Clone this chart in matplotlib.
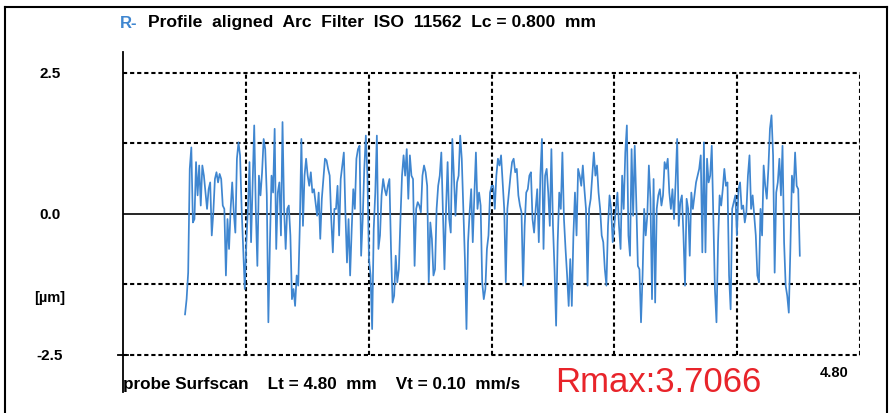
"""
Roughness profile chart (R-profile, arc filter).
"""

import matplotlib

matplotlib.use("Agg")
import matplotlib.pyplot as plt
import matplotlib.lines as mlines
import numpy as np

# profile values [um] from left to right
profile_a = [-1.78, -1.51, -1.04, 0.80, 1.18, -0.15, -0.09, 0.92, 0.33, 0.86,
             0.15, 0.86, 0.68, 0.38, 0.09, 0.44, 0.56, -0.38, 0.03, 0.62,
             0.74, 0.56, 0.71, 0.62, 0.15, 0.09, -1.09, -0.09, -0.62, 0.09,
             0.56, 0.03, -0.33, 0.98, 1.27, 1.04, 0.09, -0.62, -1.33, -0.50,
             0.09, 0.92, -0.50, 0.56, 1.57, 0.09, -0.92, 0.68, 0.33, 0.74,
             1.33, 1.15, 0.33, -1.92, -0.50, 0.68, 0.38, 1.51, -0.62, 0.38,
             0.56, -0.38, 1.63]
profile_b = [0.09, -0.62, 0.09, 0.15, -0.38, -1.51, -1.33, -1.63, -1.09, -1.27,
             -0.21, 1.33, -0.21, 0.68, 0.98, 0.68, 0.50, 0.74, 0.38, 0.44,
             0.21, -0.03, 0.38, -0.44, 0.27, 0.62, 0.98, 0.95, 0.80, 0.68,
             -0.09, -0.68, 0.09, 0.09, 0.50, -0.38, 0.62, 0.86, 1.09, 0.03,
             -0.86, -0.09, -1.09, -0.27, 0.44, 0.09, 0.98, 1.15, 1.21, -0.74,
             -0.09, 0.80, 1.39, 0.68, -0.80, -1.09, -2.04, -0.27, 0.38, 1.39,
             -0.62, -0.38, 0.33, 0.62, 0.44, 0.33, 0.50]
profile_c = [0.62, -0.62, -1.57, -1.45, -0.74, -1.21, -0.98, -0.09, 0.68, 1.04,
             0.68, 1.15, 0.27, 1.04, 0.68, 0.62, -0.92, 0.09, 0.21, 0.15,
             0.03, 0.68, 0.86, 0.74, 0.50, -1.21, -0.15, -0.44, -1.09, -0.98,
             0.09, 0.50, 0.68, 1.09, 0.09, -0.98, 0.09, 0.92, -0.09, -0.33,
             1.33, 0.68, -0.03, 0.56, 0.68, 1.39, 0.98, 0.09, -0.80, -2.04,
             -0.50, 0.03, 0.44, -0.50, 0.33, 1.09, 0.09, 0.38, 0.15, -1.21,
             -1.51, -1.33, -0.62, -0.38, 0.38, 0.50]
profile_d = [0.50, 0.09, 0.68, 0.98, 0.86, 1.04, 0.56, 0.09, -1.21, 0.09,
             0.38, 0.68, 0.92, 0.98, 0.74, 0.80, 0.33, 0.15, 0.03, -1.27,
             -0.21, 0.38, 0.44, 0.68, 0.74, -0.09, -0.33, 0.09, 0.44, -0.50,
             0.68, 1.33, -0.62, 0.68, 0.80, 0.38, -0.21, 1.15, -0.21, -0.98,
             -1.98, -0.50, 0.38, 0.09, 1.09, -0.09, -0.62, -1.09, -1.63, -0.80,
             -1.63, -0.38, 0.38, -0.38, 0.80, 0.68, 0.50, 0.86, 0.44, 0.09,
             -1.27, 0.09, 0.27, 0.68, 1.09, 0.68]
profile_e = [0.86, 0.38, 0.09, -0.38, -0.50, -0.98, -1.27, -0.21, 0.33, 0.09,
             -0.50, -0.21, 0.09, 0.38, -0.21, -0.62, 0.68, 0.09, 1.09, 1.57,
             -0.38, -0.74, 1.15, -0.03, 1.21, 0.21, -0.92, -0.98, -1.92, -1.09,
             0.09, -0.38, -0.03, 0.86, 0.27, -1.51, 0.62, -1.57, 0.09, 0.33,
             0.44, 0.15, 0.33, 0.92, 0.80, 0.98, 0.38, 0.09, 0.44, -0.09,
             0.56, 1.33, -0.21, 0.21, 0.33, -0.38, -1.27, 0.27, 0.09, -0.74,
             0.38, 0.09, 0.33, 0.56, 0.68, 0.80, 1.04, -0.68]
profile_f = [1.27, -0.68, 0.98, 0.56, 0.68, 1.21, -0.03, -1.33, -1.92, -0.50,
             0.33, 0.15, 0.44, 0.80, 0.50, 0.56, -1.09, -1.69, 0.09, 0.21,
             0.33, -0.38, 0.44, 0.56, 0.09, 0.15, -0.15, 0.03, 0.68, 1.04,
             0.09, 0.33, -0.03, -0.38, -1.09, -1.21, 0.09, -0.38, 0.86, 0.50,
             0.27, 0.80, 1.51, 1.75, 1.04, -1.04, 0.38, 0.56, 0.98, 0.33,
             1.21, -0.50, -1.27, -1.45, -1.75, -0.62, 0.68, 0.38, 1.09, 0.50,
             0.44, -0.74]

profile = np.array(profile_a + profile_b + profile_c + profile_d + profile_e + profile_f)
x_start, x_end = 0.505, 5.51  # trace extent in grid units
xpos = np.linspace(x_start, x_end, len(profile))

grid_x = [1, 2, 3, 4, 5, 6]
grid_y = [2.5, 1.25, -1.25, -2.5]
ytick_vals = [2.5, 0.0, -2.5]
ytick_labels = ["2.5", "0.0", "-2.5"]

W, H = 890, 414
fonts = ["Liberation Sans Narrow", "Liberation Sans", "DejaVu Sans"]


def fx(px):
    return px / W


def fy(py):
    return 1 - py / H


fig = plt.figure(figsize=(W / 100, H / 100), dpi=100)
fig.patch.set_facecolor("white")

# outer frame
for xs, ys in [([5, 5], [8, 414]), ([5, 887], [8, 8]), ([887, 887], [8, 414])]:
    fig.add_artist(
        mlines.Line2D([fx(v) for v in xs], [fy(v) for v in ys],
                      transform=fig.transFigure, color="black", lw=1.5)
    )

ax = fig.add_axes([fx(123), fy(393), fx(860) - fx(123), (393 - 53) / H])
ax.set_xlim(0, 6)
ax.set_ylim(-3.156, 2.872)
for side in ["top", "right", "bottom"]:
    ax.spines[side].set_visible(False)
ax.spines["left"].set_linewidth(1.3)
ax.set_xticks([])
ax.set_yticks([])
ax.patch.set_alpha(0)

dash = (0, (2.0, 1.4))
ax.hlines(grid_y, 0, 6, colors="black", lw=1.5, linestyles=[dash])
ax.vlines(grid_x, -2.5, 2.5, colors="black", lw=1.5, linestyles=[dash])
ax.axhline(0, color="black", lw=1.2)
ax.plot([-0.04, 0.04], [-2.5, -2.5], color="black", lw=1.3, clip_on=False)

ax.plot(xpos, profile, color="#3f86d0", lw=1.25)

# y labels
for v, lab in zip(ytick_vals, ytick_labels):
    fig.text(fx(50), fy(215 - v * 56.4), lab, ha="center", va="center",
             fontsize=11, fontweight="bold", family=fonts)
fig.text(fx(50), fy(298), "[µm]", ha="center", va="center",
         fontsize=10.5, fontweight="bold", family=fonts)

# title
fig.text(fx(120), fy(23), "R-", ha="left", va="center", fontsize=12,
         fontweight="bold", color="#3f86d0", family=fonts)
fig.text(fx(148), fy(23), "Profile  aligned  Arc  Filter  ISO  11562  Lc = 0.800  mm",
         ha="left", va="center", fontsize=12.6, fontweight="bold", family=fonts)

# footer
fig.text(fx(123), fy(385), "probe Surfscan    Lt = 4.80  mm    Vt = 0.10  mm/s",
         ha="left", va="center", fontsize=12.3, fontweight="bold", family=fonts)
fig.text(fx(555), fy(383), "Rmax:3.7066", ha="left", va="center", fontsize=25,
         color="#e8242a", family=["Liberation Sans", "DejaVu Sans"])
fig.text(fx(834), fy(373), "4.80", ha="center", va="center", fontsize=10.5,
         fontweight="bold", family=fonts)

plt.savefig("out.png", dpi=100)
